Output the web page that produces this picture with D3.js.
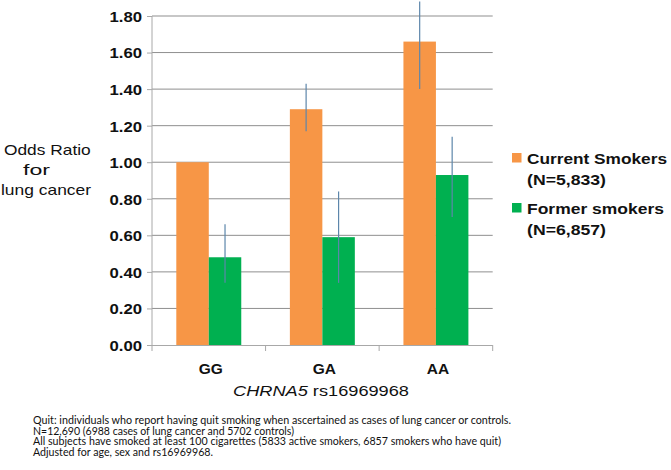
<!DOCTYPE html>
<html><head><meta charset="utf-8">
<script src="https://cdn.jsdelivr.net/npm/d3@7"></script>
<style>html,body{margin:0;padding:0;background:#fff;}svg{display:block;}</style>
</head><body>
<svg id="chart" width="671" height="470"></svg>
<script>
// ---- data ----
const categories = ["GG", "GA", "AA"];
const seriesNames = ["Current Smokers", "Former smokers"];
const seriesN = ["(N=5,833)", "(N=6,857)"];
const currentValues = [1.00, 1.29, 1.66];
const formerValues = [0.48, 0.59, 0.93];
const currentLow = [null, 1.17, 1.40];
const currentHigh = [null, 1.43, 1.88];
const formerLow = [0.34, 0.34, 0.70];
const formerHigh = [0.66, 0.84, 1.14];
const yTicks = [0, 0.2, 0.4, 0.6, 0.8, 1.0, 1.2, 1.4, 1.6, 1.8];
const yTitle = ["Odds Ratio", "for", "lung cancer"];
const xTitleItalic = "CHRNA5";
const xTitleRest = " rs16969968";
const footnotes = [
  "Quit: individuals who report having quit smoking when ascertained as cases of lung cancer or controls.",
  "N=12,690 (6988 cases of lung cancer and 5702 controls)",
  "All subjects have smoked at least 100 cigarettes (5833 active smokers, 6857 smokers who have quit)",
  "Adjusted for age, sex and rs16969968."
];

const colors = ["#f79646", "#00b050"];
const errColor = "#5d86ab";
const svg = d3.select("#chart");
const font = "'Liberation Sans', Arial, Helvetica, sans-serif";

const x0 = 152, x1 = 492.7, yTop = 16, yBot = 345;
const y = d3.scaleLinear().domain([0, 1.8]).range([yBot, yTop]);
const x = d3.scaleBand().domain(categories).range([x0, x1]).padding(0);
const bw = x.bandwidth();
const groupW = bw * 0.572;
const xs = d3.scaleBand().domain(seriesNames).range([(bw - groupW) / 2, (bw + groupW) / 2]).padding(0);

const rows = categories.map((c, i) => ({
  cat: c,
  vals: [
    {s: seriesNames[0], v: currentValues[i], lo: currentLow[i], hi: currentHigh[i], k: 0},
    {s: seriesNames[1], v: formerValues[i], lo: formerLow[i], hi: formerHigh[i], k: 1}
  ]
}));

// gridlines
svg.append("g").selectAll("line").data(yTicks.filter(t => t > 0)).join("line")
  .attr("x1", x0).attr("x2", x1).attr("y1", d => y(d)).attr("y2", d => y(d))
  .attr("stroke", "#8f8f8f").attr("stroke-width", 1);

// y axis
const yAxis = svg.append("g").attr("transform", `translate(${x0},0)`)
  .call(d3.axisLeft(y).tickValues(yTicks).tickFormat(d3.format(".2f")).tickSize(5).tickPadding(5));
yAxis.select(".domain").attr("stroke", "#a8a8a8").attr("d", `M-0,${yTop}V${yBot}`);
yAxis.selectAll(".tick line").attr("stroke", "#a8a8a8");
yAxis.selectAll(".tick text").attr("font-family", font).attr("font-weight", "bold")
  .attr("font-size", 15).attr("fill", "#111").attr("dy", "0.36em")
  .attr("textLength", 32.5).attr("lengthAdjust", "spacingAndGlyphs");

// bars
const g = svg.append("g").selectAll("g").data(rows).join("g")
  .attr("transform", d => `translate(${x(d.cat)},0)`);
g.selectAll("rect").data(d => d.vals).join("rect")
  .attr("x", d => xs(d.s)).attr("width", xs.bandwidth())
  .attr("y", d => y(d.v)).attr("height", d => y(0) - y(d.v))
  .attr("fill", d => colors[d.k]);
g.selectAll("line.err").data(d => d.vals.filter(v => v.lo != null)).join("line")
  .attr("class", "err")
  .attr("x1", d => xs(d.s) + xs.bandwidth() / 2).attr("x2", d => xs(d.s) + xs.bandwidth() / 2)
  .attr("y1", d => y(d.lo)).attr("y2", d => y(d.hi))
  .attr("stroke", errColor).attr("stroke-width", 1.2);

// x axis
const xAxis = svg.append("g").attr("transform", `translate(0,${yBot})`)
  .call(d3.axisBottom(x).tickSize(0).tickPadding(22));
xAxis.select(".domain").attr("stroke", "#a8a8a8").attr("d", `M${x0},0.5H${x1}`);
xAxis.selectAll(".tick text").attr("font-family", font).attr("font-weight", "bold")
  .attr("font-size", 15.5).attr("fill", "#111").attr("dx", 2).attr("dy", "0.45em");
svg.append("g").selectAll("line").data(categories.concat(["__end"])).join("line")
  .attr("x1", (d, i) => x0 + i * bw).attr("x2", (d, i) => x0 + i * bw)
  .attr("y1", yBot).attr("y2", yBot + 6).attr("stroke", "#a8a8a8");

// x title
const xt = svg.append("text").attr("x", 321).attr("y", 395.5).attr("text-anchor", "middle")
  .attr("font-family", font).attr("font-size", 15.5).attr("fill", "#111")
  .attr("textLength", 176).attr("lengthAdjust", "spacingAndGlyphs");
xt.append("tspan").attr("font-style", "italic").text(xTitleItalic);
xt.append("tspan").text(xTitleRest);

// y title
const ytPos = [[4, 155, 86.7], [23, 175, 27], [1, 195, 90]];
svg.append("g").selectAll("text").data(yTitle).join("text")
  .attr("x", (d, i) => ytPos[i][0]).attr("y", (d, i) => ytPos[i][1])
  .attr("textLength", (d, i) => ytPos[i][2]).attr("lengthAdjust", "spacingAndGlyphs")
  .attr("font-family", font).attr("font-size", 15).attr("fill", "#111").text(d => d);

// legend
const lg = svg.append("g").selectAll("g").data(seriesNames).join("g")
  .attr("transform", (d, i) => `translate(512,${153 + i * 50})`);
lg.append("rect").attr("width", 9.5).attr("height", 9.5).attr("fill", (d, i) => colors[i]);
lg.append("text").attr("x", 15).attr("y", 10.5).text(d => d)
  .attr("font-family", font).attr("font-weight", "bold").attr("font-size", 15).attr("fill", "#111")
  .attr("textLength", (d, i) => i === 0 ? 140 : 137).attr("lengthAdjust", "spacingAndGlyphs");
lg.append("text").attr("x", 15).attr("y", 31.5).text((d, i) => seriesN[i])
  .attr("font-family", font).attr("font-weight", "bold").attr("font-size", 15).attr("fill", "#111")
  .attr("textLength", 79).attr("lengthAdjust", "spacingAndGlyphs");

// footnotes
const fnLen = [478, 261, 468, 180];
svg.append("g").selectAll("text").data(footnotes).join("text")
  .attr("x", 33).attr("y", (d, i) => 424 + i * 10.7)
  .attr("font-family", "Lato, 'Open Sans', sans-serif").attr("font-size", 10.5).attr("fill", "#111")
  .attr("textLength", (d, i) => fnLen[i]).attr("lengthAdjust", "spacingAndGlyphs")
  .text(d => d);
</script>
</body></html>
